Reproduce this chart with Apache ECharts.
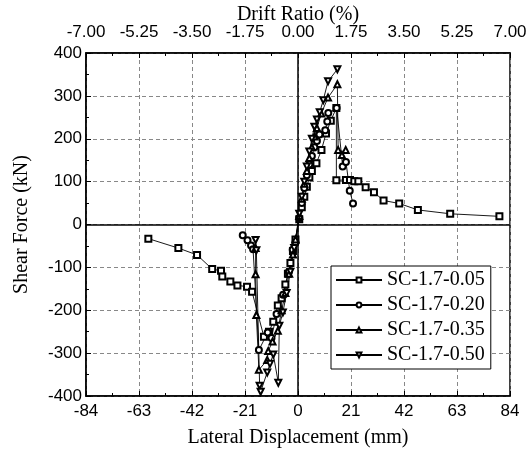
<!DOCTYPE html>
<html>
<head>
<meta charset="utf-8">
<script src="https://cdn.jsdelivr.net/npm/echarts@6/dist/echarts.min.js"></script>
<style>html,body{margin:0;padding:0;background:#fff}#c{width:530px;height:455px}</style>
</head>
<body>
<div id="c"></div>
<script>
// ---- data ----
const seriesNames = ['SC-1.7-0.05', 'SC-1.7-0.20', 'SC-1.7-0.35', 'SC-1.7-0.50'];

const x005 = [-59.3,-47.4,-40,-34,-30.5,-30,-26.8,-24,-20.2,-18.2,-13.5,-11.5,-9.8,-8,-6.5,-5,-4,-3,-2,-1,0.5,1.5,2.5,3.5,4.5,5.5,7.3,9.3,11.1,13,15.2,15.2,19,20.6,22.3,23.9,26.8,30.1,33.9,40.1,47.5,60.3,79.8];
const y005 = [-33,-55,-71,-104,-108,-121,-133,-142,-145,-157,-262,-250,-227,-189,-172,-140,-115,-90,-62,-35,12,40,65,88,110,125,143,174,212,242,272,103,104,104,101,101,87,75,56,49,34,25,19];

const x020 = [-21.9,-20,-18.6,-17.8,-15.5,-12,-10.5,-8.5,-5.9,-3.6,-2.1,-1,0.5,1.5,2.5,3.5,4.5,5.5,6.5,7.5,8.5,10.8,11.6,12,15.3,17.7,19,20.5,21.8];
const y020 = [-25,-37,-49,-58,-293,-252,-265,-209,-164,-110,-59,-42,15,50,85,115,140,160,180,195,210,220,240,260,272,135,146,79,49];

const x035 = [-16.8,-16.8,-16.5,-15.5,-12.2,-11.8,-10.1,-8,-6.5,-5,-3.5,-2,-1,0.5,1.5,2.5,3.5,4.5,5.5,6.5,7.5,9.2,11.9,15.6,15.9,17.4,18.9];
const y035 = [-55,-116,-211,-339,-316,-295,-273,-248,-200,-160,-115,-70,-35,20,60,95,125,155,180,205,225,259,296,327,174,162,174];

const x050 = [-16.8,-16.5,-15.2,-14.8,-12.2,-11.1,-9.8,-7.8,-7.4,-6,-4.5,-3,-1.5,0.5,1.5,2.5,3.5,4.5,5.5,6.5,7.5,8.6,10,11.9,15.6];
const y050 = [-36,-60,-376,-390,-345,-325,-303,-369,-236,-205,-160,-110,-55,25,65,100,135,170,200,228,245,262,290,334,362];

const xTicksBottom = {min:-84, max:84, interval:21};
const xTicksTop = {min:-7, max:7, interval:1.75};
const yTicks = {min:-400, max:400, interval:100};

// ---- chart ----
const pair = (xs, ys) => xs.map((x, i) => [x, ys[i]]);
const datasets = [pair(x005, y005), pair(x020, y020), pair(x035, y035), pair(x050, y050)];
const symbols = ['emptyRect', 'emptyCircle', 'emptyTriangle', 'emptyTriangle'];
const rotates = [0, 0, 0, 180];

const serif = '"Liberation Serif","Times New Roman",serif';
const sans = '"Liberation Sans",Arial,sans-serif';

const chart = echarts.init(document.getElementById('c'), null, {renderer: 'canvas'});

const dashed = {show: true, lineStyle: {color: '#888', type: [4, 3], width: 1}};
const tickIn = {show: true, inside: true, length: 5, lineStyle: {color: '#000'}};
const minorIn = {show: true, splitNumber: 2, length: 3, lineStyle: {color: '#000'}};

const series = datasets.map((d, i) => ({
  name: seriesNames[i],
  type: 'line',
  data: d,
  xAxisIndex: 0,
  yAxisIndex: 0,
  symbol: symbols[i],
  symbolRotate: rotates[i],
  symbolSize: 6,
  color: '#000',
  lineStyle: {color: '#000', width: 0.9},
  itemStyle: {color: '#000', borderWidth: 0.9},
  animation: false,
  z: 3
}));
series[0].markLine = {
  silent: true,
  symbol: 'none',
  label: {show: false},
  lineStyle: {color: '#000', type: 'solid', width: 1.5},
  data: [{xAxis: 0}, {yAxis: 0}],
  animation: false
};

chart.setOption({
  backgroundColor: '#fff',
  animation: false,
  title: {
    text: 'Drift Ratio (%)',
    left: 298, top: 5, textAlign: 'center', padding: 0,
    textStyle: {fontFamily: serif, fontSize: 20, fontWeight: 'normal', color: '#000'}
  },
  grid: {left: 86, right: 20, top: 53, bottom: 59, show: true, borderColor: '#000', borderWidth: 1.5, backgroundColor: 'transparent', containLabel: false, outerBoundsMode: 'none'},
  legend: {
    orient: 'vertical',
    left: 331, top: 266,
    width: 159,
    backgroundColor: '#fff',
    borderColor: '#000', borderWidth: 1,
    padding: [4, 6, 4, 4],
    itemGap: 5,
    itemWidth: 46, itemHeight: 6,
    textStyle: {fontFamily: serif, fontSize: 20, color: '#000'},
    data: seriesNames
  },
  xAxis: [
    {
      type: 'value', position: 'bottom',
      min: xTicksBottom.min, max: xTicksBottom.max, interval: xTicksBottom.interval,
      name: 'Lateral Displacement (mm)', nameLocation: 'middle', nameGap: 32,
      nameTextStyle: {fontFamily: serif, fontSize: 20, color: '#000'},
      axisLine: {show: true, onZero: false, lineStyle: {color: '#000', width: 1.5}},
      axisTick: tickIn, minorTick: minorIn,
      axisLabel: {fontFamily: sans, fontSize: 17, color: '#000', margin: 7},
      splitLine: dashed
    },
    {
      type: 'value', position: 'top',
      min: xTicksTop.min, max: xTicksTop.max, interval: xTicksTop.interval,
      axisLine: {show: true, onZero: false, lineStyle: {color: '#000', width: 1.5}},
      axisTick: tickIn, minorTick: minorIn,
      axisLabel: {fontFamily: sans, fontSize: 17, color: '#000', margin: 12, formatter: v => v.toFixed(2)},
      splitLine: {show: false}
    }
  ],
  yAxis: [
    {
      type: 'value',
      min: yTicks.min, max: yTicks.max, interval: yTicks.interval,
      name: 'Shear Force (kN)', nameLocation: 'middle', nameGap: 54,
      nameTextStyle: {fontFamily: serif, fontSize: 20, color: '#000'},
      axisLine: {show: true, onZero: false, lineStyle: {color: '#000', width: 1.5}},
      axisTick: tickIn, minorTick: minorIn,
      axisLabel: {fontFamily: sans, fontSize: 17, color: '#000', margin: 4},
      splitLine: dashed
    }
  ],
  series: series
});
</script>
</body>
</html>
